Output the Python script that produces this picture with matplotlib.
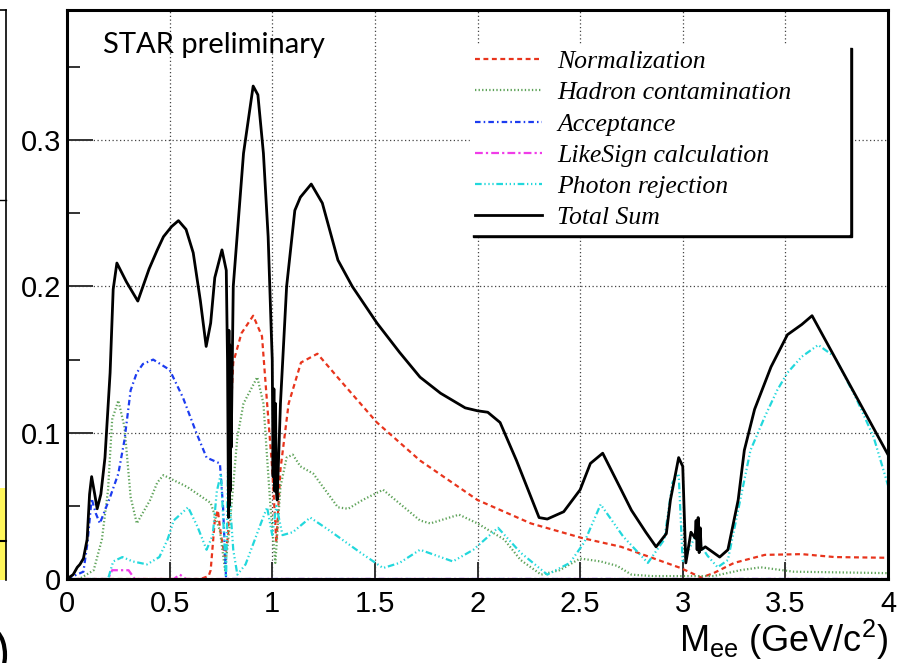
import numpy as np
import matplotlib.pyplot as plt
from matplotlib.lines import Line2D
from matplotlib.patches import Rectangle, Arc
from matplotlib.ticker import MultipleLocator, FuncFormatter

# Systematic uncertainty components vs. pair mass M_ee (GeV/c^2)
norm_x = [0, 0.65, 0.69, 0.70, 0.72, 0.735, 0.75, 0.77, 0.785, 0.80, 0.81, 0.85, 0.907,
          0.95, 0.975, 1.0, 1.02, 1.04, 1.08, 1.14, 1.22, 1.33, 1.51, 1.72, 2.0, 2.26,
          2.51, 2.70, 2.88, 2.99, 3.09, 3.15, 3.25, 3.40, 3.58, 3.74, 4.0]
norm_y = [0, 0, 0.002, 0.006, 0.040, 0.047, 0.030, 0.015, 0.030, 0.120, 0.148, 0.168, 0.180,
          0.166, 0.120, 0.075, 0.025, 0.075, 0.120, 0.148, 0.154, 0.136, 0.107, 0.081, 0.054, 0.038,
          0.028, 0.022, 0.013, 0.0075, 0.001, 0.004, 0.011, 0.0165, 0.017, 0.015, 0.0145]

hadron_x = [0, 0.06, 0.13, 0.17, 0.20, 0.22, 0.25, 0.28, 0.31, 0.34, 0.405, 0.44, 0.47,
            0.585, 0.70, 0.745, 0.77, 0.795, 0.83, 0.86, 0.927, 0.957, 0.99, 1.015, 1.04,
            1.07, 1.10, 1.137, 1.20, 1.32, 1.37, 1.44, 1.54, 1.66, 1.72, 1.77, 1.91, 2.0,
            2.13, 2.21, 2.31, 2.40, 2.50, 2.60, 2.68, 2.75, 2.85, 3.15, 3.28, 3.38, 3.54, 4.0]
hadron_y = [0, 0, 0.006, 0.027, 0.061, 0.109, 0.122, 0.104, 0.056, 0.038, 0.054, 0.066, 0.071,
            0.063, 0.052, 0.033, 0.006, 0.040, 0.097, 0.120, 0.138, 0.120, 0.052, 0.011, 0.063,
            0.083, 0.085, 0.077, 0.072, 0.049, 0.048, 0.054, 0.061, 0.047, 0.040, 0.038, 0.044, 0.038,
            0.027, 0.013, 0.003, 0.006, 0.014, 0.012, 0.009, 0.003, 0.002, 0.002, 0.006, 0.008, 0.005, 0.004]

accept_x = [0, 0.08, 0.10, 0.12, 0.14, 0.16, 0.21, 0.25, 0.28, 0.31, 0.34, 0.37, 0.42,
            0.50, 0.565, 0.63, 0.68, 0.745, 0.76, 0.775, 4.0]
accept_y = [0, 0.005, 0.025, 0.055, 0.045, 0.038, 0.056, 0.072, 0.095, 0.129, 0.141, 0.147, 0.150,
            0.143, 0.124, 0.100, 0.083, 0.079, 0.050, 0.0, 0.0]

likesign_x = [0, 0.20, 0.22, 0.30, 0.33, 0.52, 0.55, 0.58, 4.0]
likesign_y = [0, 0, 0.006, 0.006, 0.0, 0.0, 0.003, 0.0, 0.0]

photon_x = [0, 0.20, 0.225, 0.27, 0.32, 0.39, 0.45, 0.49, 0.52, 0.59, 0.635, 0.68, 0.71,
            0.73, 0.75, 0.765, 0.775, 0.785, 0.795, 0.81, 0.83, 0.87, 0.91, 0.95, 0.975,
            1.0, 1.02, 1.05, 1.10, 1.185, 1.27, 1.43, 1.54, 1.62, 1.72, 1.88, 1.98, 2.10,
            2.21, 2.34, 2.45, 2.52, 2.60, 2.71, 2.83, 2.91, 2.95, 2.98, 3.0, 3.06, 3.12,
            3.17, 3.22, 3.28, 3.33, 3.40, 3.46, 3.51, 3.58, 3.66, 3.74, 3.85, 3.93, 4.0]
photon_y = [0, 0, 0.012, 0.015, 0.012, 0.010, 0.015, 0.027, 0.040, 0.049, 0.036, 0.020, 0.030,
            0.060, 0.072, 0.030, 0.0, 0.080, 0.050, 0.020, 0.003, 0.010, 0.025, 0.040, 0.049,
            0.030, 0.050, 0.030, 0.032, 0.042, 0.034, 0.018, 0.0075, 0.011, 0.020, 0.012, 0.020, 0.035,
            0.018, 0.003, 0.011, 0.025, 0.051, 0.029, 0.011, 0.027, 0.066, 0.072, 0.011, 0.029, 0.016,
            0.008, 0.013, 0.054, 0.088, 0.111, 0.129, 0.141, 0.152, 0.160, 0.152, 0.122, 0.097, 0.064]

total_x = [0, 0.03, 0.05, 0.063, 0.08, 0.098, 0.11, 0.12, 0.135, 0.147, 0.165, 0.185, 0.21,
           0.225, 0.243, 0.29, 0.345, 0.40, 0.44, 0.47, 0.51, 0.543, 0.58, 0.615, 0.65,
           0.678, 0.70, 0.72, 0.755, 0.776, 0.782, 0.787, 0.789, 0.791, 0.793, 0.795, 0.797,
           0.80, 0.81, 0.86, 0.907, 0.93, 0.957, 0.98, 0.995, 1.0, 1.004, 1.008, 1.012,
           1.016, 1.02, 1.024, 1.04, 1.07, 1.11, 1.137, 1.19, 1.244, 1.32, 1.39, 1.51,
           1.62, 1.72, 1.82, 1.94, 2.0, 2.05, 2.11, 2.19, 2.30, 2.34, 2.42, 2.50, 2.55,
           2.61, 2.70, 2.75, 2.82, 2.87, 2.92, 2.94, 2.98, 3.0, 3.015, 3.04, 3.06, 3.065,
           3.07, 3.075, 3.08, 3.085, 3.09, 3.11, 3.18, 3.22, 3.27, 3.30, 3.35, 3.43, 3.51,
           3.58, 3.63, 4.0]
total_y = [0, 0.003, 0.008, 0.010, 0.014, 0.027, 0.058, 0.070, 0.058, 0.048, 0.058, 0.083, 0.141,
           0.198, 0.216, 0.203, 0.190, 0.212, 0.225, 0.234, 0.241, 0.245, 0.239, 0.223, 0.190,
           0.159, 0.175, 0.206, 0.225, 0.211, 0.150, 0.042, 0.170, 0.050, 0.160, 0.060, 0.150,
           0.090, 0.200, 0.291, 0.337, 0.331, 0.291, 0.234, 0.170, 0.150, 0.070, 0.130, 0.060,
           0.120, 0.060, 0.054, 0.120, 0.200, 0.252, 0.261, 0.270, 0.257, 0.218, 0.200, 0.175,
           0.155, 0.138, 0.127, 0.117, 0.115, 0.114, 0.107, 0.081, 0.042, 0.041, 0.046, 0.061, 0.079,
           0.086, 0.061, 0.047, 0.032, 0.022, 0.031, 0.054, 0.083, 0.077, 0.011, 0.032, 0.028, 0.040,
           0.020, 0.042, 0.018, 0.035, 0.020, 0.022, 0.015, 0.020, 0.054, 0.088, 0.116, 0.145, 0.167,
           0.174, 0.180, 0.085]

labels = ['Normalization', 'Hadron contamination', 'Acceptance',
          'LikeSign calculation', 'Photon rejection', 'Total Sum']

fig = plt.figure(figsize=(9.08, 6.63), dpi=100)
ax = fig.add_axes([67 / 908, 1 - 579 / 663, 821 / 908, 569 / 663])

styles = [
    dict(color='#e8341c', dashes=(2.2, 1.6)),
    dict(color='#5fa35a', dashes=(0.6, 1.0)),
    dict(color='#1c3cf0', dashes=(2.5, 1.4, 0.7, 1.4)),
    dict(color='#f03ce8', dashes=(3.5, 1.4, 1.0, 1.4)),
    dict(color='#22d8dc', dashes=(3.0, 1.2, 0.6, 1.2, 0.6, 1.2, 0.6, 1.2)),
]
series = [(norm_x, norm_y), (hadron_x, hadron_y), (accept_x, accept_y),
          (likesign_x, likesign_y), (photon_x, photon_y)]

handles = []
for (xs, ys), st in zip(series, styles):
    h, = ax.plot(xs, ys, lw=1.6, **st)
    handles.append(h)
h, = ax.plot(total_x, total_y, color='black', lw=2.0)
handles.append(h)

ax.set_xlim(0, 4)
ax.set_ylim(0, 0.389)

ax.xaxis.set_major_locator(MultipleLocator(0.5))
ax.yaxis.set_major_locator(MultipleLocator(0.1))
ax.yaxis.set_minor_locator(MultipleLocator(0.05))
fmt = FuncFormatter(lambda v, p: '{:g}'.format(round(v, 3)))
ax.xaxis.set_major_formatter(fmt)
ax.yaxis.set_major_formatter(fmt)

ax.grid(True, which='major', color='#444444', lw=0.9, linestyle=(0, (1, 2)))
ax.tick_params(axis='y', which='major', direction='in', length=19, width=1.4,
               color='#333333', labelsize=21, pad=4)
ax.tick_params(axis='y', which='minor', direction='in', length=9, width=1.4, color='#333333')
ax.tick_params(axis='x', which='major', direction='in', length=12, width=1.4,
               color='#333333', labelsize=21, pad=8)
for lab in ax.get_xticklabels() + ax.get_yticklabels():
    lab.set_fontfamily('Liberation Sans')
for sp in ax.spines.values():
    sp.set_linewidth(2.2)

plt.rcParams['mathtext.default'] = 'regular'
ax.set_xlabel(r'M$_{ee}$ (GeV/c$^2$)', fontsize=26, family='Liberation Sans', loc='right')
ax.xaxis.set_label_coords(1.0, -0.068)

leg = ax.legend(handles, labels, loc='upper left',
                bbox_to_anchor=(470 / 908, 1 - 45 / 663, 379 / 908, 0.0),
                bbox_transform=fig.transFigure, mode='expand',
                prop={'family': 'Liberation Serif', 'style': 'italic', 'size': 18.5},
                handlelength=2.6, handletextpad=0.6, labelspacing=0.32,
                borderpad=0.2, borderaxespad=0, fancybox=False,
                facecolor='white', edgecolor='white', framealpha=1,
                shadow={'color': 'black', 'alpha': 1.0})

fig.text(103 / 908, 1 - 53 / 663, 'STAR preliminary', fontsize=21,
         family='Lato', va='baseline')

# neighbouring panel edge on the left
fig.add_artist(Rectangle((0, 1 - 580 / 663), 6 / 908, 92 / 663,
                         transform=fig.transFigure, facecolor='#fff65a', edgecolor='none'))
fig.add_artist(Line2D([6 / 908, 6 / 908], [1 - 10 / 663, 1 - 580 / 663],
                      transform=fig.transFigure, color='black', lw=1.2))
fig.add_artist(Line2D([0, 6 / 908], [1 - 10 / 663, 1 - 10 / 663],
                      transform=fig.transFigure, color='black', lw=1.2))
fig.add_artist(Line2D([0, 6 / 908], [1 - 541 / 663, 1 - 541 / 663],
                      transform=fig.transFigure, color='black', lw=1.5))
fig.add_artist(Line2D([0, 6 / 908], [1 - 200 / 663, 1 - 200 / 663],
                      transform=fig.transFigure, color='black', lw=1.0))
fig.add_artist(Arc((-8 / 908, 1 - 655 / 663), 26 / 908, 50 / 663, theta1=-80, theta2=80,
                   transform=fig.transFigure, color='black', lw=3))

fig.savefig('out.png', dpi=100)
